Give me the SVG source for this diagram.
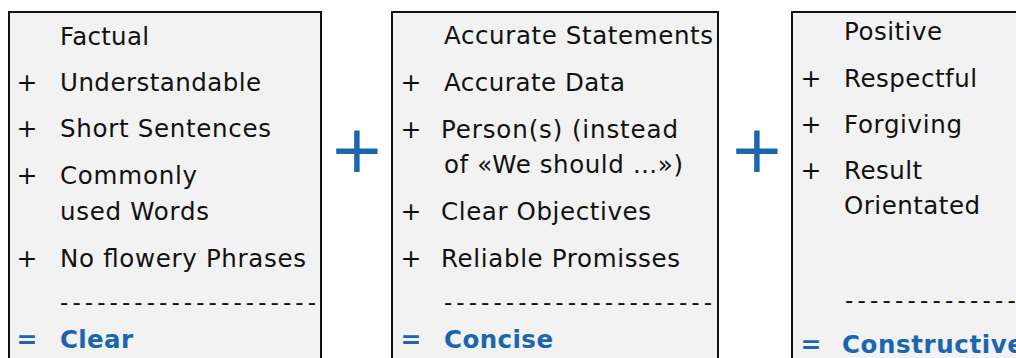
<svg xmlns="http://www.w3.org/2000/svg" width="1016" height="358" viewBox="0 0 1016 358">
  <style>
    .box { fill: #f2f2f2; stroke: #111; stroke-width: 2; }
    text { font-family: "DejaVu Sans", Verdana, sans-serif; font-size: 24.5px; fill: #111; }
    .mark { text-anchor: middle; font-size: 25px; }
    .rule { font-size: 23px; }
    .result { fill: #1a67b0; font-weight: bold; }
    .op { fill: #1a67b0; font-size: 66px; text-anchor: middle; }
  </style>
  <rect width="1016" height="358" fill="#fff"/>

  <!-- Column 1: Clear -->
  <g id="clear">
    <rect class="box" x="9" y="12" width="312" height="360"/>
    <text x="60" y="45" textLength="89" lengthAdjust="spacing">Factual</text>
    <text class="mark" x="27" y="91">+</text>
    <text x="60" y="91" textLength="201" lengthAdjust="spacing">Understandable</text>
    <text class="mark" x="27" y="137">+</text>
    <text x="60" y="137" textLength="211" lengthAdjust="spacing">Short Sentences</text>
    <text class="mark" x="27" y="184">+</text>
    <text x="60" y="184" textLength="137" lengthAdjust="spacing">Commonly</text>
    <text x="60" y="220" textLength="149" lengthAdjust="spacing">used Words</text>
    <text class="mark" x="27" y="267">+</text>
    <text x="60" y="267" textLength="246" lengthAdjust="spacing">No flowery Phrases</text>
    <text class="rule" x="60" y="310" textLength="256" lengthAdjust="spacing">---------------------</text>
    <text class="mark result" x="27" y="348">=</text>
    <text class="result" x="60" y="348" textLength="73" lengthAdjust="spacing">Clear</text>
  </g>

  <!-- Column 2: Concise -->
  <g id="concise">
    <rect class="box" x="392" y="12" width="326" height="360"/>
    <text x="444" y="44" textLength="269" lengthAdjust="spacing">Accurate Statements</text>
    <text class="mark" x="411" y="91">+</text>
    <text x="444" y="91" textLength="181" lengthAdjust="spacing">Accurate Data</text>
    <text class="mark" x="411" y="138">+</text>
    <text x="441" y="138" textLength="237" lengthAdjust="spacing">Person(s) (instead</text>
    <text x="444" y="173" textLength="239" lengthAdjust="spacing">of «We should …»)</text>
    <text class="mark" x="411" y="220">+</text>
    <text x="441" y="220" textLength="210" lengthAdjust="spacing">Clear Objectives</text>
    <text class="mark" x="411" y="267">+</text>
    <text x="441" y="267" textLength="239" lengthAdjust="spacing">Reliable Promisses</text>
    <text class="rule" x="444" y="310" textLength="268" lengthAdjust="spacing">----------------------</text>
    <text class="mark result" x="411" y="348">=</text>
    <text class="result" x="444" y="348" textLength="109" lengthAdjust="spacing">Concise</text>
  </g>

  <!-- Column 3: Constructive -->
  <g id="constructive">
    <rect class="box" x="792" y="12" width="240" height="360"/>
    <text x="844" y="40" textLength="98" lengthAdjust="spacing">Positive</text>
    <text class="mark" x="811" y="87">+</text>
    <text x="844" y="87" textLength="133" lengthAdjust="spacing">Respectful</text>
    <text class="mark" x="811" y="133">+</text>
    <text x="844" y="133" textLength="118" lengthAdjust="spacing">Forgiving</text>
    <text class="mark" x="811" y="179">+</text>
    <text x="844" y="179" textLength="78" lengthAdjust="spacing">Result</text>
    <text x="844" y="214" textLength="136" lengthAdjust="spacing">Orientated</text>
    <text class="rule" x="845" y="308" letter-spacing="4.2">---------------</text>
    <text class="mark result" x="811" y="353">=</text>
    <text class="result" x="842" y="353" letter-spacing="0.6">Constructive</text>
  </g>

  <!-- Operators between the columns -->
  <g id="operators">
    <text class="op" x="357" y="172">+</text>
    <text class="op" x="757" y="172">+</text>
  </g>
</svg>
